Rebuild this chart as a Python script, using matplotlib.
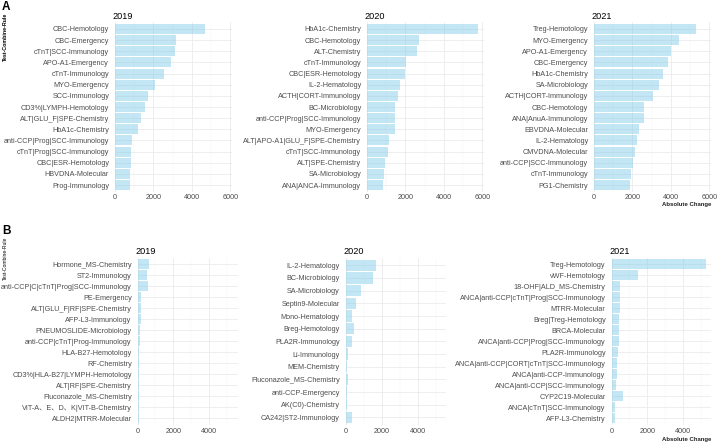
import numpy as np
import matplotlib.pyplot as plt
from matplotlib.ticker import MultipleLocator

plt.rcParams['font.family'] = ['Liberation Sans', 'Noto Sans CJK SC', 'DejaVu Sans']

W, H = 718, 444

# ---- row A : top 15 by absolute change ----
a2019_labels = ['CBC-Hemotology', 'CBC-Emergency', 'cTnT|SCC-Immunology', 'APO-A1-Emergency',
                'cTnT-Immunology', 'MYO-Emergency', 'SCC-Immunology', 'CD3%|LYMPH-Hemotology',
                'ALT|GLU_F|SPE-Chemistry', 'HbA1c-Chemistry', 'anti-CCP|Prog|SCC-Immunology',
                'cTnT|Prog|SCC-Immunology', 'CBC|ESR-Hemotology', 'HBVDNA-Molecular', 'Prog-Immunology']
a2019_values = [4680, 3180, 3130, 2920, 2540, 2060, 1720, 1580, 1370, 1170, 860, 825, 810, 770, 770]

a2020_labels = ['HbA1c-Chemistry', 'CBC-Hemotology', 'ALT-Chemistry', 'cTnT-Immunology',
                'CBC|ESR-Hemotology', 'IL-2-Hematology', 'ACTH|CORT-Immunology', 'BC-Microbiology',
                'anti-CCP|Prog|SCC-Immunology', 'MYO-Emergency', 'ALT|APO-A1|GLU_F|SPE-Chemistry',
                'cTnT|SCC-Immunology', 'ALT|SPE-Chemistry', 'SA-Microbiology', 'ANA|ANCA-Immunology']
a2020_values = [5790, 2720, 2620, 2035, 1950, 1690, 1600, 1480, 1470, 1430, 1120, 1090, 950, 880, 830]

a2021_labels = ['Treg-Hemotology', 'MYO-Emergency', 'APO-A1-Emergency', 'CBC-Emergency',
                'HbA1c-Chemistry', 'SA-Microbiology', 'ACTH|CORT-Immunology', 'CBC-Hemotology',
                'ANA|AnuA-Immunology', 'EBVDNA-Molecular', 'IL-2-Hematology', 'CMVDNA-Molecular',
                'anti-CCP|SCC-Immunology', 'cTnT-Immunology', 'PG1-Chemistry']
a2021_values = [5300, 4430, 4010, 3840, 3580, 3390, 3090, 2620, 2600, 2340, 2220, 2140, 2010, 1910, 1875]

# ---- row B ----
b2019_labels = ['Hormone_MS-Chemistry', 'ST2-Immunology', 'anti-CCP|C|cTnT|Prog|SCC-Immunology',
                'PE-Emergency', 'ALT|GLU_F|RF|SPE-Chemistry', 'AFP-L3-Immunology',
                'PNEUMOSLIDE-Microbiology', 'anti-CCP|cTnT|Prog-Immunology', 'HLA-B27-Hemotology',
                'RF-Chemistry', 'CD3%|HLA-B27|LYMPH-Hemotology', 'ALT|RF|SPE-Chemistry',
                'Fluconazole_MS-Chemistry', 'VIT-A、E、D、K|VIT-B-Chemistry', 'ALDH2|MTRR-Molecular']
b2019_values = [640, 510, 580, 220, 200, 200, 165, 130, 110, 100, 95, 85, 80, 70, 65]

b2020_labels = ['IL-2-Hematology', 'BC-Microbiology', 'SA-Microbiology', 'Septin9-Molecular',
                'Mono-Hematology', 'Breg-Hemotology', 'PLA2R-Immunology', 'Li-Immunology',
                'MEM-Chemistry', 'Fluconazole_MS-Chemistry', 'anti-CCP-Emergency',
                'AK(C0)-Chemistry', 'CA242|ST2-Immunology']
b2020_values = [1680, 1495, 875, 580, 335, 450, 375, 110, 60, 110, 55, 50, 375]

b2021_labels = ['Treg-Hemotology', 'vWF-Hemotology', '18-OHF|ALD_MS-Chemistry',
                'ANCA|anti-CCP|cTnT|Prog|SCC-Immunology', 'MTRR-Molecular', 'Breg|Treg-Hemotology',
                'BRCA-Molecular', 'ANCA|anti-CCP|Prog|SCC-Immunology', 'PLA2R-Immunology',
                'ANCA|anti-CCP|CORT|cTnT|SCC-Immunology', 'ANCA|anti-CCP-Immunology',
                'ANCA|anti-CCP|SCC-Immunology', 'CYP2C19-Molecular', 'ANCA|cTnT|SCC-Immunology',
                'AFP-L3-Chemistry']
b2021_values = [5300, 1480, 500, 500, 480, 430, 410, 410, 370, 315, 300, 260, 650, 205, 205]

years = ['2019', '2020', '2021']


def px_axes(fig, x0, y0, x1, y1):
    return fig.add_axes([x0 / W, 1 - y1 / H, (x1 - x0) / W, (y1 - y0) / H])


def panel(ax, labels, values, xmax, title):
    n = len(labels)
    pos = np.arange(n)[::-1]
    ax.barh(pos, values, height=0.9, color='#87CEEB', alpha=0.5, zorder=2, linewidth=0)
    ax.set_yticks(pos)
    ax.set_yticklabels(labels)
    ax.xaxis.set_major_locator(MultipleLocator(2000))
    ax.xaxis.set_minor_locator(MultipleLocator(1000))
    ax.set_xlim(0, xmax)
    ax.set_ylim(-0.6, n - 0.4)
    ax.grid(which='major', color='#EBEBEB', linewidth=0.6, zorder=0)
    ax.grid(which='minor', axis='x', color='#F3F3F3', linewidth=0.35, zorder=0)
    ax.set_axisbelow(True)
    for s in ax.spines.values():
        s.set_visible(False)
    ax.tick_params(which='both', length=0, labelsize=5.2, labelcolor='#4D4D4D')
    ax.tick_params(axis='y', pad=4.2)
    ax.tick_params(axis='x', pad=2)
    ax.set_title(title, loc='left', fontsize=6.6, pad=2.5, x=-0.02)


fig = plt.figure(figsize=(W / 100, H / 100), dpi=100)

rowA = [(a2019_labels, a2019_values), (a2020_labels, a2020_values), (a2021_labels, a2021_values)]
rowB = [(b2019_labels, b2019_values), (b2020_labels, b2020_values), (b2021_labels, b2021_values)]

xa = [(115, 232), (367, 484), (594, 711)]
xb = [(137.5, 237.5), (345.7, 445.7), (611.5, 711)]

maxA = max(max(v) for _, v in rowA) * 1.05
maxB = max(max(v) for _, v in rowB) * 1.05

for (lab, val), (x0, x1), yr in zip(rowA, xa, years):
    ax = px_axes(fig, x0, 22.3, x1, 191.7)
    panel(ax, lab, val, maxA, yr)

for (lab, val), (x0, x1), yr in zip(rowB, xb, years):
    ax = px_axes(fig, x0, 257.7, x1, 425)
    panel(ax, lab, val, maxB, yr)

# panel tags and axis titles
fig.text(2 / W, 1 - 7.5 / H, 'A', fontsize=8.5, fontweight='bold', va='center', ha='left')
fig.text(2 / W, 1 - 231 / H, 'B', fontsize=8.5, fontweight='bold', va='center', ha='left')
fig.text(5 / W, 1 - 37 / H, 'Test-Combine-Rule', fontsize=3.8, fontweight='bold',
         rotation=90, va='center', ha='center')
fig.text(5 / W, 1 - 258 / H, 'Test-Combine-Rule', fontsize=3.6,
         rotation=90, va='center', ha='center')
fig.text(711 / W, 1 - 204.5 / H, 'Absolute Change', fontsize=4.3, fontweight='bold',
         va='center', ha='right', color='#222222')
fig.text(711 / W, 1 - 439.5 / H, 'Absolute Change', fontsize=4.3, fontweight='bold',
         va='center', ha='right', color='#222222')

fig.savefig('out.png', dpi=100, facecolor='white')
